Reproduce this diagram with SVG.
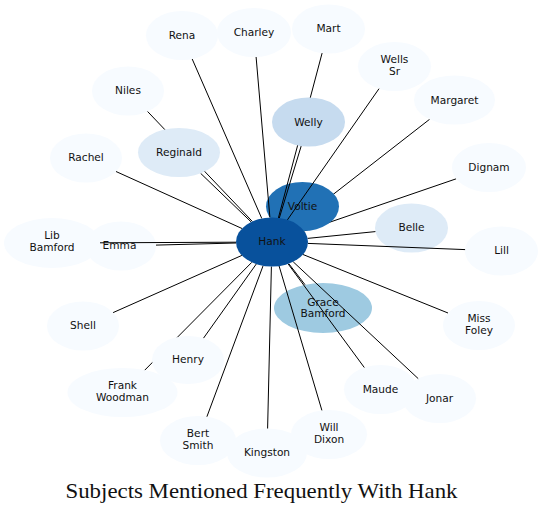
<svg xmlns="http://www.w3.org/2000/svg" width="543" height="513" viewBox="0 0 543 513">
<style>
  .bg { fill: #ffffff; }
  .e line { stroke: #000; stroke-width: 1; fill: none; }
  .n text { font-family: "DejaVu Sans", "Noto Sans", sans-serif; font-size: 10.6px; text-anchor: middle; fill: #111; }
  .c0 { fill: #f7fbff; }
  .c1 { fill: #deebf7; }
  .c2 { fill: #c6dbef; }
  .c3 { fill: #9ecae1; }
  .c5 { fill: #2171b5; }
  .c6 { fill: #08519c; }
  .title { font-family: "Liberation Serif", "Times New Roman", serif; font-size: 21px; fill: #111; }
</style>
<rect class="bg" x="0" y="0" width="543" height="513"/>

<g id="connectors-under" class="e">
  <line x1="429.6" y1="119.3" x2="295.7" y2="223.6"/>
  <line x1="456.2" y1="178.8" x2="304.1" y2="231.0"/>
</g>

<g id="nodes-under">
  <g id="voltie" class="n"><ellipse class="c5" cx="302.5" cy="206.5" rx="36.5" ry="24.5"/><text x="302.5" y="209.5">Voltie</text></g>
  <g id="grace-bamford" class="n"><ellipse class="c3" cx="323" cy="308" rx="49" ry="25"/><text x="323" y="305.5">Grace</text><text x="323" y="317">Bamford</text></g>
  <g id="belle" class="n"><ellipse class="c1" cx="411.5" cy="228" rx="36.5" ry="24.5"/><text x="411.5" y="231">Belle</text></g>
  <g id="rena" class="n"><ellipse class="c0" cx="182" cy="35.5" rx="36" ry="24.5"/><text x="182" y="38.5">Rena</text></g>
  <g id="charley" class="n"><ellipse class="c0" cx="254" cy="32.5" rx="37" ry="24.5"/><text x="254" y="35.5">Charley</text></g>
  <g id="mart" class="n"><ellipse class="c0" cx="328.5" cy="29" rx="36.5" ry="24.5"/><text x="328.5" y="32">Mart</text></g>
  <g id="wells-sr" class="n"><ellipse class="c0" cx="394.5" cy="66.5" rx="36.5" ry="24.5"/><text x="394.5" y="63">Wells</text><text x="394.5" y="75">Sr</text></g>
  <g id="margaret" class="n"><ellipse class="c0" cx="454.5" cy="100" rx="40.5" ry="24.5"/><text x="454.5" y="103.5">Margaret</text></g>
  <g id="niles" class="n"><ellipse class="c0" cx="128" cy="91" rx="36" ry="24.5"/><text x="128" y="94">Niles</text></g>
  <g id="rachel" class="n"><ellipse class="c0" cx="86" cy="158" rx="36" ry="24.5"/><text x="86" y="161">Rachel</text></g>
  <g id="dignam" class="n"><ellipse class="c0" cx="489" cy="167.5" rx="37" ry="24.5"/><text x="489" y="170.5">Dignam</text></g>
  <g id="lib-bamford" class="n"><ellipse class="c0" cx="52" cy="243" rx="48" ry="25"/><text x="52" y="239">Lib</text><text x="52" y="251">Bamford</text></g>
  <g id="emma" class="n"><ellipse class="c0" cx="121" cy="246" rx="35" ry="24.5"/><text x="119.5" y="249">Emma</text></g>
  <g id="lill" class="n"><ellipse class="c0" cx="501.5" cy="251" rx="36.5" ry="24.5"/><text x="501.5" y="254">Lill</text></g>
  <g id="shell" class="n"><ellipse class="c0" cx="83" cy="326" rx="36" ry="24.5"/><text x="83" y="329">Shell</text></g>
  <g id="miss-foley" class="n"><ellipse class="c0" cx="479" cy="325.5" rx="36" ry="24.5"/><text x="479" y="322">Miss</text><text x="479" y="334">Foley</text></g>
  <g id="frank-woodman" class="n"><ellipse class="c0" cx="122.5" cy="392.5" rx="55" ry="24.5"/><text x="122.5" y="389">Frank</text><text x="122.5" y="401">Woodman</text></g>
  <g id="maude" class="n"><ellipse class="c0" cx="380.5" cy="389.5" rx="36.5" ry="24.5"/><text x="380.5" y="392.5">Maude</text></g>
  <g id="jonar" class="n"><ellipse class="c0" cx="439.5" cy="398.5" rx="36.5" ry="24.5"/><text x="439.5" y="401.5">Jonar</text></g>
  <g id="bert-smith" class="n"><ellipse class="c0" cx="198" cy="440.5" rx="38" ry="24.5"/><text x="198" y="437">Bert</text><text x="198" y="449">Smith</text></g>
  <g id="kingston" class="n"><ellipse class="c0" cx="267" cy="453" rx="40" ry="24.5"/><text x="267" y="456">Kingston</text></g>
  <g id="will-dixon" class="n"><ellipse class="c0" cx="329" cy="434.5" rx="38" ry="24.5"/><text x="329" y="431">Will</text><text x="329" y="443">Dixon</text></g>
</g>

<g id="connectors" class="e">
  <line x1="192.2" y1="59.0" x2="261.8" y2="218.5"/>
  <line x1="256.1" y1="57.0" x2="269.9" y2="217.5"/>
  <line x1="322.1" y1="53.1" x2="278.4" y2="217.9"/>
  <line x1="379.0" y1="88.7" x2="287.4" y2="219.9"/>
  <line x1="147.6" y1="111.5" x2="252.4" y2="221.5"/>
  <line x1="116.0" y1="171.5" x2="242.0" y2="228.5"/>
  <line x1="200.6" y1="173.3" x2="251.2" y2="222.0"/>
  <line x1="301.2" y1="146.0" x2="279.3" y2="218.0"/>
  <line x1="375.4" y1="231.6" x2="307.6" y2="238.4"/>
  <line x1="465.1" y1="249.6" x2="307.9" y2="243.4"/>
  <line x1="100.0" y1="242.8" x2="236.0" y2="242.2"/>
  <line x1="156.0" y1="245.1" x2="236.0" y2="243.0"/>
  <line x1="113.1" y1="312.6" x2="241.9" y2="255.4"/>
  <line x1="448.0" y1="313.0" x2="303.0" y2="254.5"/>
  <line x1="305.0" y1="284.7" x2="288.8" y2="263.7"/>
  <line x1="203.4" y1="338.3" x2="256.3" y2="264.0"/>
  <line x1="144.8" y1="370.1" x2="251.8" y2="262.3"/>
  <line x1="364.3" y1="367.5" x2="288.1" y2="263.9"/>
  <line x1="418.2" y1="378.6" x2="293.2" y2="261.8"/>
  <line x1="321.9" y1="410.4" x2="279.1" y2="266.0"/>
  <line x1="267.6" y1="428.5" x2="271.4" y2="266.5"/>
  <line x1="206.9" y1="416.7" x2="263.1" y2="265.7"/>
</g>

<g id="nodes-over">
  <g id="welly" class="n"><ellipse class="c2" cx="308.5" cy="122" rx="36.5" ry="24.5"/><text x="308.5" y="125.5">Welly</text></g>
  <g id="reginald" class="n"><ellipse class="c1" cx="179" cy="152.5" rx="41" ry="24.5"/><text x="179" y="155.5">Reginald</text></g>
  <g id="henry" class="n"><ellipse class="c0" cx="188" cy="360" rx="36" ry="24"/><text x="188" y="363">Henry</text></g>
  <g id="hank" class="n"><ellipse class="c6" cx="272" cy="242" rx="36" ry="24.5"/><text x="272" y="245">Hank</text></g>
</g>

<text class="title" x="65.5" y="498" textLength="392" lengthAdjust="spacingAndGlyphs">Subjects Mentioned Frequently With Hank</text>
</svg>
